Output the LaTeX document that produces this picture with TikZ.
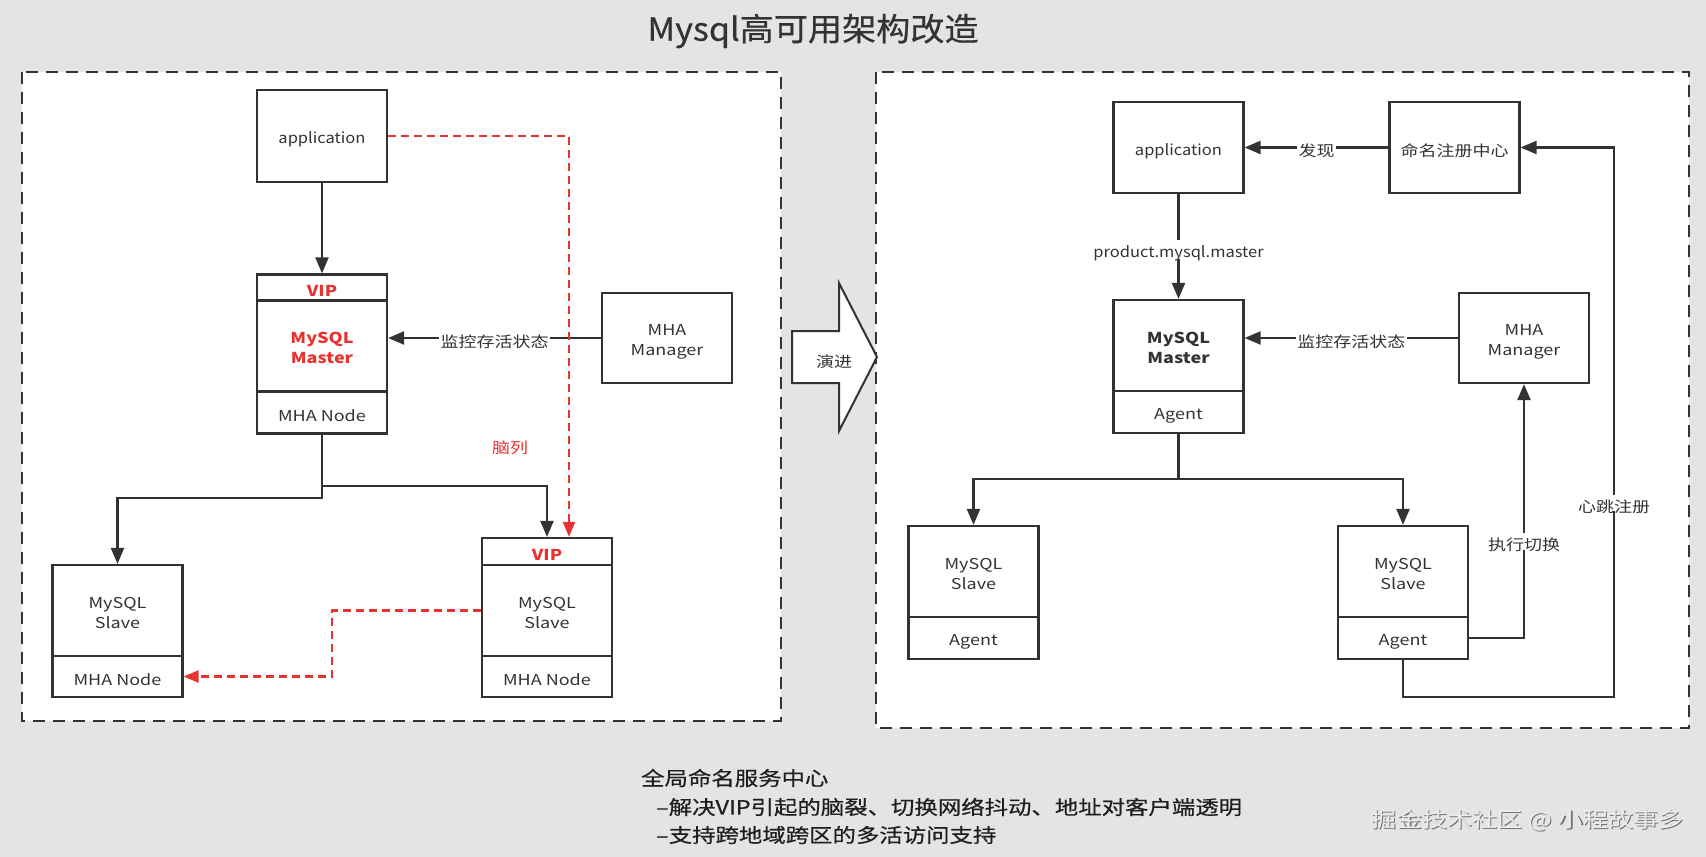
\documentclass[tikz,border=0pt]{standalone}
\usepackage{fontspec}
\usepackage{graphicx}
\setmainfont{Noto Sans CJK SC}
\newfontfamily\medfont[FakeBold=0.5]{Noto Sans CJK SC}
\usetikzlibrary{arrows.meta}
\definecolor{bg}{HTML}{E4E4E4}
\definecolor{ink}{HTML}{333333}
\definecolor{vred}{HTML}{E8322F}
% horizontally stretched text, lowered a little to sit like the reference
\newcommand{\hs}[1]{\scalebox{1.2}[1]{\raisebox{-3.5pt}[\height][\depth]{#1}}}
\newcommand{\hl}[1]{\scalebox{1.1}[1]{\raisebox{-3.5pt}[\height][\depth]{#1}}}
\newcommand{\two}[2]{\hs{\begin{tabular}{@{}c@{}}#1\\#2\end{tabular}}}
\tikzset{
  box/.style={draw=ink, line width=2.2pt, fill=white, inner sep=0pt, minimum width=130pt,
    font=\fontsize{15}{20}\selectfont, text=ink},
  boldbox/.style={box, font=\fontsize{15}{20}\selectfont\bfseries},
  lbl/.style={fill=white, inner sep=1.5pt, text=ink, font=\fontsize{15}{18}\selectfont},
  conn/.style={draw=ink, line width=2.2pt, -{Triangle[length=16pt,width=13pt]}},
  rconn/.style={draw=vred, line width=2.2pt, dash pattern=on 8pt off 5pt, -{Triangle[length=15pt,width=12pt]}},
  panel/.style={draw=ink, line width=2.2pt, dash pattern=on 12pt off 8pt, fill=white},
  bottomtxt/.style={anchor=west, text=black!88, inner sep=0pt, font=\medfont\fontsize{19.5}{24}\selectfont}
}
\begin{document}
\begin{tikzpicture}[x=1pt,y=-1pt]
\useasboundingbox (0,0) rectangle (1706,857);
\fill[bg] (0,0) rectangle (1706,857);

% title
\node[text=ink, font=\medfont\fontsize{32}{38}\selectfont] (title) at (813,31) {\scalebox{1.066}[1]{Mysql高可用架构改造}};

% panels
\path[panel] (22,72) rectangle (781,721);
\path[panel] (876,72) rectangle (1689,728);

% evolution arrow
\draw[ink, line width=2pt, fill=white, line join=miter] (792,331) -- (839,331) -- (839,283) -- (877,357) -- (839,431) -- (839,383) -- (792,383) -- cycle;
\node[text=ink, font=\fontsize{15}{18}\selectfont] (evo) at (834,358) {\hs{演进}};

% ---------------- left panel ----------------
\node[box, minimum height=92pt] (app1) at (322,136) {\hl{application}};
\node[boldbox, minimum height=26pt, text=vred] (vip1) at (322,287.5) {\hs{VIP}};
\node[boldbox, minimum height=91pt, text=vred] (m1) at (322,346) {\two{MySQL}{Master}};
\node[box, minimum height=42pt] (n1) at (322,412.5) {\hs{MHA Node}};
\node[box, minimum height=90pt] (mgr1) at (667,338) {\two{MHA}{Manager}};

\node[box, minimum height=91pt] (s1) at (117.5,610.5) {\two{MySQL}{Slave}};
\node[box, minimum height=41pt] (sn1) at (117.5,676.5) {\hs{MHA Node}};

\node[boldbox, minimum height=27pt, text=vred] (vip2) at (547,551.5) {\hs{VIP}};
\node[box, minimum height=91pt] (s2) at (547,610.5) {\two{MySQL}{Slave}};
\node[box, minimum height=41pt] (sn2) at (547,676.5) {\hs{MHA Node}};

\draw[conn] (app1.south) -- (vip1.north);
\draw[conn] (mgr1.west) -- (mgr1.west -| m1.east) node[lbl, midway] {\hs{监控存活状态}};
\coordinate (j1) at (322,498);
\coordinate (j2) at (322,486);
\draw[conn] (n1.south) -- (j1) -| (s1.north);
\draw[conn] (n1.south) -- (j2) -| (vip2.north);

\coordinate (r1) at (569,136);
\draw[rconn] (app1.east) -- (r1) -- (r1 |- vip2.north);
\coordinate (r2) at (332,610.5);
\draw[rconn] (s2.west) -- (r2) |- (sn1.east);
\node[text=vred, font=\fontsize{15}{18}\selectfont] (split) at (510,444) {\hs{脑列}};

% ---------------- right panel ----------------
\node[box, minimum height=91pt] (app2) at (1178.5,147.5) {\hl{application}};
\node[box, minimum height=91pt] (reg) at (1454.5,147.5) {\hs{命名注册中心}};
\node[boldbox, minimum height=91pt] (m2) at (1178.5,345.5) {\two{MySQL}{Master}};
\node[box, minimum height=42pt] (a2) at (1178.5,412) {\hs{Agent}};
\node[box, minimum height=90pt] (mgr2) at (1524,338) {\two{MHA}{Manager}};

\node[box, minimum height=91pt] (sl1) at (973.5,571.5) {\two{MySQL}{Slave}};
\node[box, minimum height=42pt] (ag1) at (973.5,638) {\hs{Agent}};
\node[box, minimum height=91pt] (sl2) at (1403,571.5) {\two{MySQL}{Slave}};
\node[box, minimum height=42pt] (ag2) at (1403,638) {\hs{Agent}};

\draw[conn] (reg.west) -- (app2.east) node[lbl, midway] {\hs{发现}};
\draw[conn] (app2.south) -- (m2.north) node[lbl, pos=0.53] {\hl{product.mysql.master}};
\draw[conn] (mgr2.west) -- (mgr2.west -| m2.east) node[lbl, midway] {\hs{监控存活状态}};
\coordinate (j3) at (1178.5,479);
\draw[conn] (a2.south) -- (j3) -| (sl1.north);
\draw[conn] (a2.south) -- (j3) -| (sl2.north);
\draw[conn] (ag2.east) -| (mgr2.south) node[lbl, pos=0.69] {\hs{执行切换}};
\coordinate (h2) at (1614,697);
\draw[conn] (ag2.south) |- (h2) |- (reg.east);
\node[lbl] (hb) at (1614,503) {\hs{心跳注册}};

% bottom text
\node[bottomtxt] (b1) at (641,778) {\scalebox{1.2}[1]{全局命名服务中心}};
\node[bottomtxt] (b2) at (656,807) {\scalebox{1.2}[1]{–解决VIP引起的脑裂、切换网络抖动、地址对客户端透明}};
\node[bottomtxt] (b3) at (656,835) {\scalebox{1.2}[1]{–支持跨地域跨区的多活访问支持}};

% watermark
\node[text=black!55, font=\fontsize{21}{24}\selectfont] (wms) at (1529,821.2) {\scalebox{1.2}[1]{掘金技术社区 @ 小程故事多}};
\node[text=white!92!black, font=\fontsize{21}{24}\selectfont] (wm) at (1527.8,820) {\scalebox{1.2}[1]{掘金技术社区 @ 小程故事多}};
\end{tikzpicture}
\end{document}
